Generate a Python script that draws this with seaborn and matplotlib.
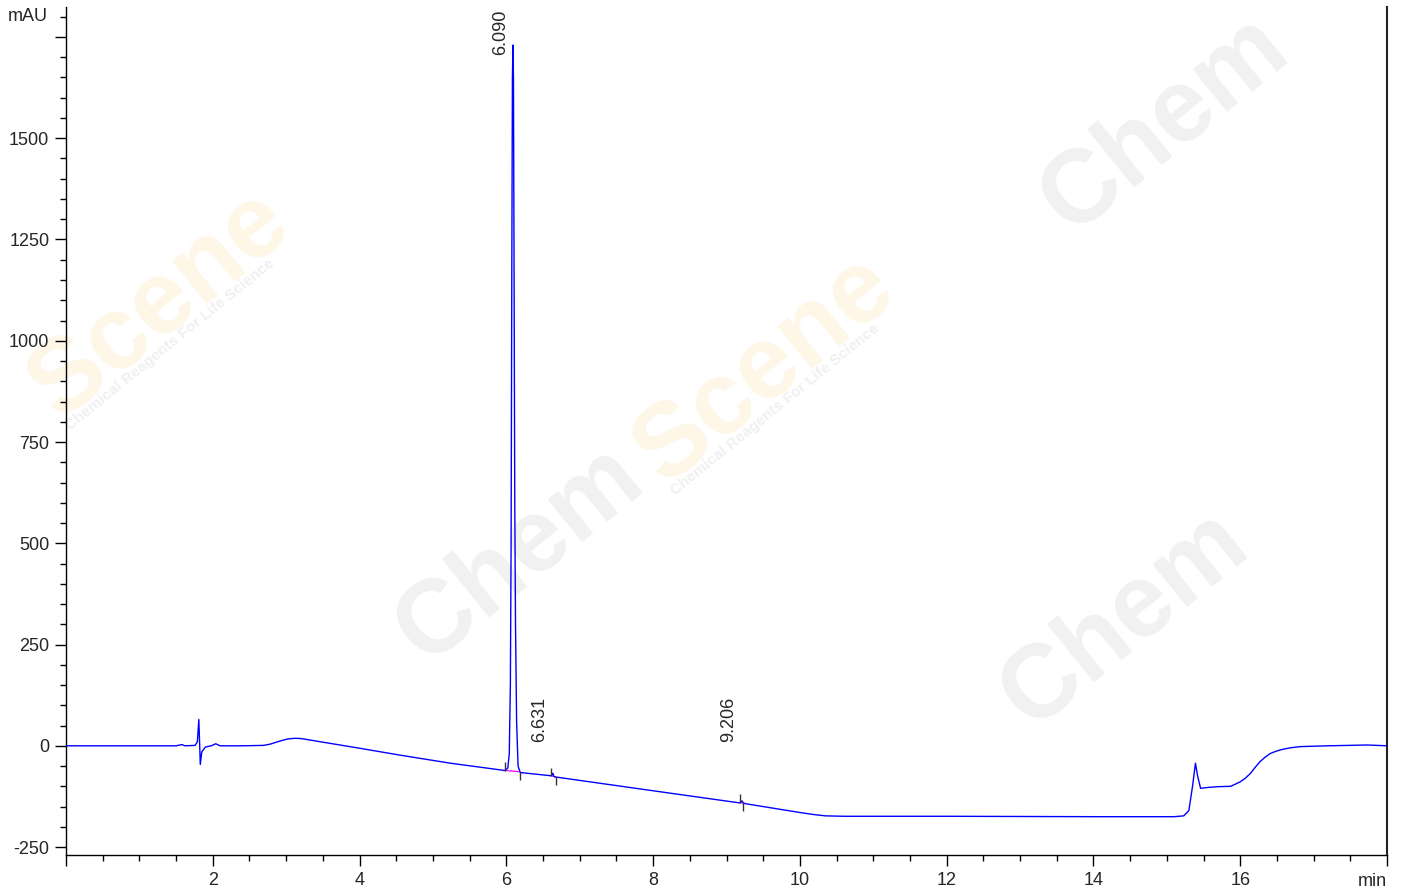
import numpy as np
import pandas as pd
import seaborn as sns
import matplotlib.pyplot as plt
from matplotlib.ticker import FixedLocator, MultipleLocator

# chromatogram trace (min, mAU)
time = [0.00, 1.50, 1.58, 1.62, 1.76, 1.79, 1.81, 1.82, 1.83, 1.85, 1.90, 1.98,
        2.04, 2.10, 2.40, 2.69, 2.78, 2.85, 2.92, 3.00, 3.05, 3.12, 3.20, 3.30,
        4.00, 4.55, 5.24, 5.98,
        6.02, 6.04, 6.055, 6.065, 6.075, 6.083, 6.09, 6.097, 6.105, 6.115, 6.125,
        6.14, 6.16, 6.19, 6.61, 6.625, 6.635, 6.645, 6.67, 8.00, 9.18, 9.20, 9.21,
        9.23, 9.26, 10.01, 10.20, 10.35, 10.60, 12.00, 14.00, 15.10, 15.23, 15.30,
        15.35, 15.39, 15.42, 15.46, 15.55, 15.69, 15.87, 16.00, 16.07, 16.14,
        16.20, 16.27, 16.34, 16.41, 16.48, 16.55, 16.68, 16.82, 17.20, 17.73, 18.00]
signal = [0, 0, 3, 0, 1, 10, 65, 10, -46, -15, -3, 0,
          5, 0, 0, 1, 4, 8, 12, 16, 17.5, 18.5, 18, 15,
          -6, -23, -43, -61,
          -55, -20, 150, 500, 1200, 1650, 1730, 1650, 1200, 600, 300,
          60, -50, -66, -74, -70, -68, -75, -77, -111, -141, -137, -136,
          -141, -143, -165, -170, -173, -174, -174, -175, -175, -173, -160,
          -100, -43, -75, -105, -103, -101, -100, -89, -80, -68,
          -54, -39, -28, -19, -14, -10, -5, -2, 0, 2, 0]

# integrated peaks
peak_rt = [6.090, 6.631, 9.206]
peak_label = ["6.090", "6.631", "9.206"]
label_y = [1705, 10, 10]
peak_start = [5.985, 6.615, 9.19]
peak_end = [6.18, 6.67, 9.225]
base_start = [-61, -74, -140]
base_end = [-64, -77, -142]

y_major = [-250, 0, 250, 500, 750, 1000, 1250, 1500, 1750]
y_labels = ["-250", "0", "250", "500", "750", "1000", "1250", "1500", ""]
x_major = [0, 2, 4, 6, 8, 10, 12, 14, 16, 18]
x_labels = ["", "2", "4", "6", "8", "10", "12", "14", "16", ""]

sns.set_style("ticks")
plt.rcParams['font.family'] = ['Liberation Sans', 'DejaVu Sans']

W, H = 1402, 888
fig = plt.figure(figsize=(W / 100, H / 100), dpi=100)
ax = fig.add_axes([66 / W, 33 / H, (1387 - 66) / W, (855 - 7) / H])

# faint vendor watermark behind the trace (only the pieces that fit in the frame)
wm_kw = dict(transform=fig.transFigure, rotation=39, rotation_mode='anchor',
             ha='center', va='center', fontweight='bold', zorder=0.5, clip_on=False)
for cx, cy in [(520, 555), (1125, 620), (1165, 125)]:
    ax.text(cx / W, 1 - cy / H, "Chem", fontsize=74, color='#f1f1f1', **wm_kw)
for cx, cy in [(765, 370), (160, 305)]:
    ax.text(cx / W, 1 - cy / H, "Scene", fontsize=74, color='#fef7e8', **wm_kw)
    ax.text((cx + 10) / W, 1 - (cy + 40) / H, "Chemical Reagents For Life Science",
            fontsize=11, color='#f0f0f0', **wm_kw)

df = pd.DataFrame({"time": time, "signal": signal})
sns.lineplot(data=df, x="time", y="signal", ax=ax, color='#0000ff', lw=1.0,
             estimator=None, sort=False, zorder=3)

# baselines and peak start/end marks
for xs, xe, ys, ye in zip(peak_start, peak_end, base_start, base_end):
    ax.plot([xs, xe], [ys, ye], color='#ff00ff', lw=0.9, zorder=2)
    ax.vlines(xs, ys, ys + 20, color='#333333', lw=1, zorder=4)
    ax.vlines(xe, ye - 20, ye, color='#333333', lw=1, zorder=4)

for rt, lab, ly in zip(peak_rt, peak_label, label_y):
    ax.annotate(lab, (rt, ly), xytext=(-3, 0), textcoords='offset points',
                rotation=90, ha='right', va='bottom', fontsize=13, zorder=5)

ax.set_xlim(0, 18)
ax.set_ylim(-269.6, 1824)
ax.set_xlabel("")
ax.set_ylabel("")

ax.yaxis.set_major_locator(FixedLocator(y_major))
ax.set_yticklabels(y_labels)
ax.yaxis.set_minor_locator(MultipleLocator(50))
ax.xaxis.set_major_locator(FixedLocator(x_major))
ax.set_xticklabels(x_labels)
ax.xaxis.set_minor_locator(MultipleLocator(0.5))

ax.tick_params(which='major', direction='out', length=8, width=1, color='black',
               labelsize=13, pad=4)
ax.tick_params(which='minor', direction='out', length=4, width=1, color='black')

for side in ['left', 'bottom']:
    ax.spines[side].set_color('black')
    ax.spines[side].set_linewidth(1)
ax.spines['top'].set_visible(False)
ax.spines['right'].set_color('#222222')
ax.spines['right'].set_linewidth(1.5)
ax.patch.set_alpha(0)

ax.text(-(66 - 48) / 1321, 1800, "mAU", transform=ax.get_yaxis_transform(),
        ha='right', va='center', fontsize=13)
ax.text(18, -(873 - 855) / 848, "min", transform=ax.get_xaxis_transform(),
        ha='right', va='top', fontsize=13)

fig.savefig("out.png", dpi=100)
